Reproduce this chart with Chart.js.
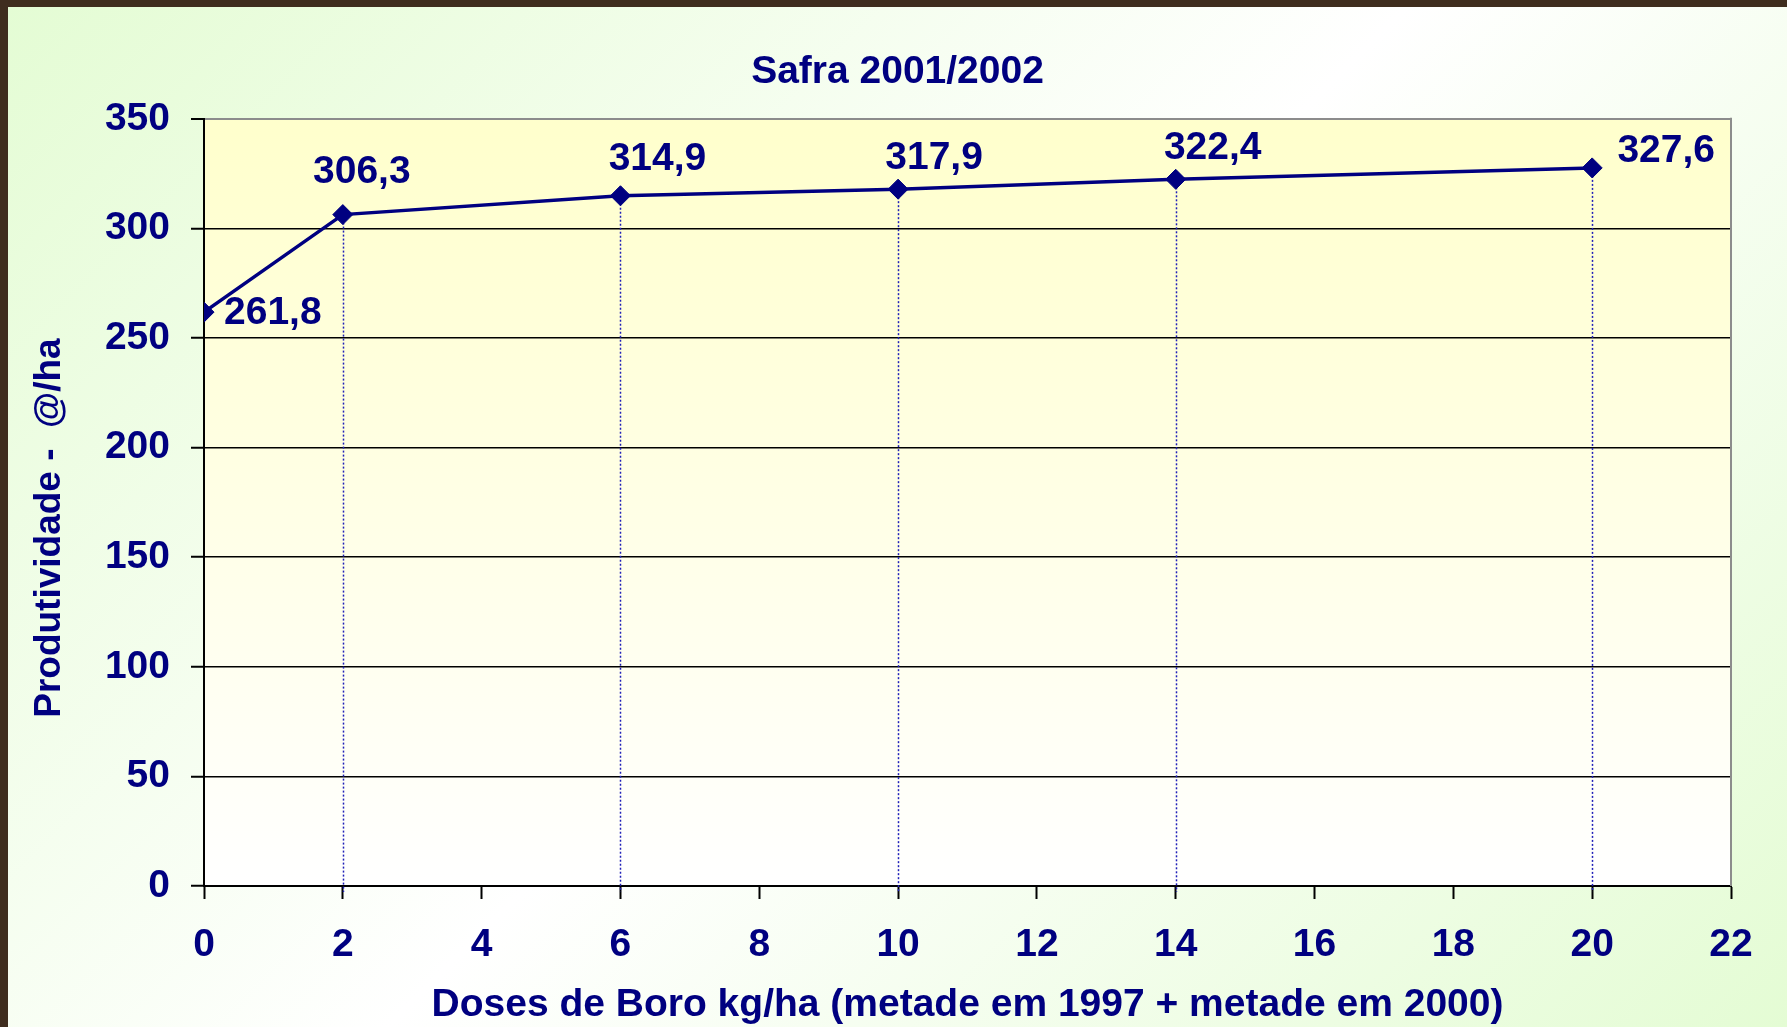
<!DOCTYPE html>
<html>
<head>
<meta charset="utf-8">
<script src="https://cdn.jsdelivr.net/npm/chart.js@4"></script>
<style>
  html, body { margin: 0; padding: 0; width: 1787px; height: 1027px; overflow: hidden;
    background: #3f2d1e; }
  #wrap { position: absolute; left: 8px; top: 7px; width: 1779px; height: 1020px;
    background: linear-gradient(135deg, #e4fcd4 0%, #ffffff 50%, #e4fcd4 100%); }
</style>
</head>
<body>
<div id="wrap"><canvas id="c"></canvas></div>
<script>
// ---- data ----
const doses = [0, 2, 6, 10, 14, 20];
const produtividade = [261.8, 306.3, 314.9, 317.9, 322.4, 327.6];
const chartTitle = 'Safra 2001/2002';
const xTitle = 'Doses de Boro kg/ha (metade em 1997 + metade em 2000)';
const yTitle = 'Produtividade -  @/ha     ';
const xRange = [0, 22, 2];
const yRange = [0, 350, 50];

// ---- label placement (style) ----
const labelPlacement = [
  { dx: 20, dy: 1, align: 'left' },
  { dx: 19, dy: -42, align: 'center' },
  { dx: 37, dy: -36, align: 'center' },
  { dx: 36, dy: -31, align: 'center' },
  { dx: 37, dy: -31, align: 'center' },
  { dx: 74, dy: -17, align: 'center' }
];

const NAVY = '#000080';
const FONT = "'Liberation Sans', Arial, sans-serif";

const points = doses.map((d, i) => ({ x: d, y: produtividade[i] }));

const plotBg = {
  id: 'plotBg',
  beforeDraw(chart) {
    const { ctx, chartArea: a } = chart;
    const g = ctx.createLinearGradient(0, a.top, 0, a.bottom);
    g.addColorStop(0, '#ffffcc');
    g.addColorStop(1, '#ffffff');
    ctx.save();
    ctx.fillStyle = g;
    ctx.fillRect(a.left, a.top, a.right - a.left, a.bottom - a.top);
    ctx.restore();
  },
  beforeDatasetsDraw(chart) {
    const { ctx, chartArea: a } = chart;
    ctx.save();
    ctx.strokeStyle = '#8c8c8c';
    ctx.lineWidth = 2;
    ctx.beginPath();
    ctx.moveTo(a.right, a.top - 1);
    ctx.lineTo(a.right, a.bottom);
    ctx.stroke();
    const meta = chart.getDatasetMeta(0);
    ctx.strokeStyle = '#2020b8';
    ctx.lineWidth = 1.5;
    ctx.setLineDash([2, 2]);
    meta.data.forEach((p, i) => {
      if (doses[i] === 0) return;
      const x = Math.round(p.x) + 0.5;
      ctx.beginPath();
      ctx.moveTo(x, p.y);
      ctx.lineTo(x, a.bottom + 6);
      ctx.stroke();
    });
    ctx.restore();
  },
  afterDatasetsDraw(chart) {
    const { ctx } = chart;
    const meta = chart.getDatasetMeta(0);
    ctx.save();
    ctx.fillStyle = NAVY;
    ctx.font = 'bold 39px ' + FONT;
    ctx.textBaseline = 'middle';
    meta.data.forEach((p, i) => {
      const pl = labelPlacement[i];
      ctx.textAlign = pl.align;
      const txt = produtividade[i].toFixed(1).replace('.', ',');
      ctx.fillText(txt, p.x + pl.dx, p.y + pl.dy);
    });
    ctx.restore();
  }
};

new Chart(document.getElementById('c'), {
  type: 'line',
  data: {
    datasets: [{
      data: points,
      borderColor: NAVY,
      backgroundColor: NAVY,
      borderWidth: 3.5,
      pointStyle: 'rectRot',
      pointRadius: 10,
      pointBorderWidth: 1,
      pointBackgroundColor: NAVY,
      pointBorderColor: NAVY,
      tension: 0,
      fill: false
    }]
  },
  options: {
    responsive: true,
    maintainAspectRatio: false,
    animation: false,
    layout: { padding: 0 },
    plugins: {
      legend: { display: false },
      tooltip: { enabled: false },
      title: {
        display: true,
        text: chartTitle,
        color: NAVY,
        font: { family: FONT, size: 39, weight: 'bold', lineHeight: 1.2 },
        padding: { top: 42, bottom: 23 }
      }
    },
    scales: {
      x: {
        type: 'linear',
        min: xRange[0], max: xRange[1],
        afterFit(s) { s.height = 141; s.paddingRight = 56; },
        ticks: {
          stepSize: xRange[2],
          color: NAVY,
          padding: 23,
          font: { family: FONT, size: 39, weight: 'bold' }
        },
        grid: {
          drawOnChartArea: false,
          drawTicks: true,
          tickLength: 13,
          tickColor: '#000',
          tickWidth: 2
        },
        border: { color: '#000', width: 2 },
        title: {
          display: true,
          text: xTitle,
          color: NAVY,
          font: { family: FONT, size: 39, weight: 'bold', lineHeight: 1.1 },
          padding: { top: 0, bottom: 0 }
        }
      },
      y: {
        min: yRange[0], max: yRange[1],
        afterFit(s) { s.width = 196; },
        ticks: {
          stepSize: yRange[2],
          color: NAVY,
          padding: 21,
          font: { family: FONT, size: 39, weight: 'bold' }
        },
        grid: {
          color: (c) => (c.tick && c.tick.value === yRange[1]) ? '#8c8c8c' : '#000',
          lineWidth: (c) => (c.tick && c.tick.value === yRange[1]) ? 2 : 1.5,
          drawTicks: true,
          tickLength: 13,
          tickColor: '#000',
          tickWidth: 2
        },
        border: { color: '#000', width: 2 },
        title: {
          display: true,
          text: yTitle,
          color: NAVY,
          font: { family: FONT, size: 37, weight: 'bold', lineHeight: 1.2 },
          padding: { top: 20, bottom: 0 }
        }
      }
    }
  },
  plugins: [plotBg]
});
</script>
</body>
</html>
